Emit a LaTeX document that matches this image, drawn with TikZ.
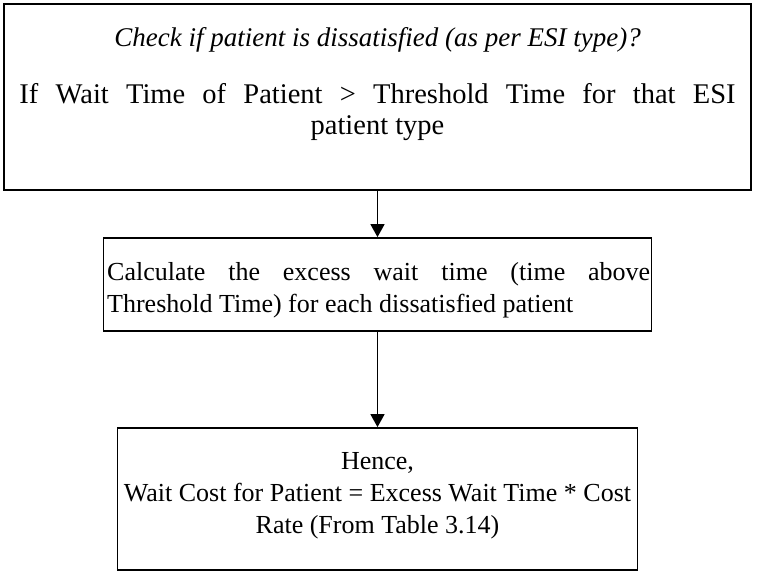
\documentclass[tikz,border=0pt]{standalone}
\usepackage{fontspec}
\setmainfont{Liberation Serif}
\usetikzlibrary{arrows.meta}
\begin{document}
\begin{tikzpicture}[x=1pt,y=-1pt,
  box/.style={draw, line width=1.8pt, inner sep=0pt},
  txt/.style={inner sep=0pt, font=\fontsize{26}{32}\selectfont},
  headtxt/.style={inner sep=0pt, font=\fontsize{27}{31.5}\selectfont},
  condtxt/.style={inner sep=0pt, font=\fontsize{28.5}{31.5}\selectfont},
  flow/.style={line width=1.6pt, -{Triangle[length=13pt,width=14pt]}}]
\useasboundingbox (0,0) rectangle (757,575);

% frames of the three steps
\node[box, minimum width=747pt, minimum height=186pt] (check) at (377.5,97) {};
\node[box, minimum width=548pt, minimum height=93pt] (calc) at (377.5,284.5) {};
\node[box, minimum width=520pt, minimum height=142pt] (cost) at (377.5,499) {};

% step texts
\node[headtxt, anchor=north, align=center] (checkq) at (377.5,27)
  {\itshape Check if patient is dissatisfied (as per ESI type)?};
\node[condtxt, anchor=north, align=center] (checkc) at (377.5,83)
  {\makebox[716pt][s]{If Wait Time of Patient > Threshold Time for that ESI}\\patient type};
\node[txt, anchor=north west, align=left] (calct) at (107,262)
  {\makebox[543pt][s]{Calculate the excess wait time (time above}\\Threshold Time) for each dissatisfied patient};
\node[txt, anchor=north, align=center] (costt) at (377.5,452)
  {Hence,\\Wait Cost for Patient = Excess Wait Time * Cost\\Rate (From Table 3.14)};

% connectors
\draw[flow] (check.south) -- (calc.north);
\draw[flow] (calc.south) -- (cost.north);
\end{tikzpicture}
\end{document}
